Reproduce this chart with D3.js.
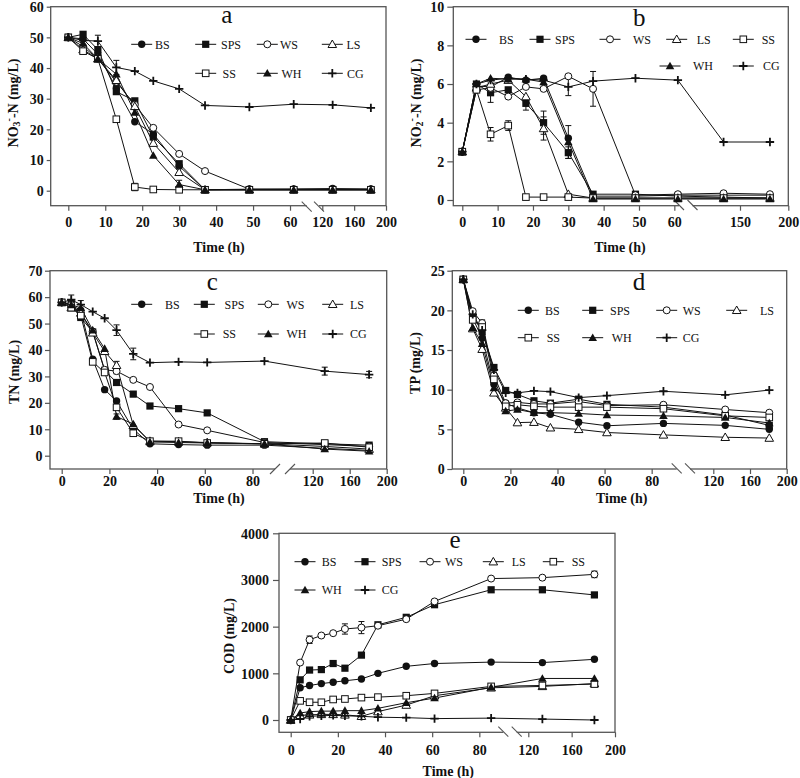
<!DOCTYPE html>
<html><head><meta charset="utf-8">
<script src="https://cdn.jsdelivr.net/npm/d3@7"></script>
<style>
body{margin:0;background:#fff}
svg{display:block}
text{font-family:"Liberation Serif","Times New Roman",serif;fill:#111}
</style>
</head><body>
<svg id="chart" width="800" height="778"></svg>
<script>
// ---------------- DATA ----------------
const seriesNames = ["BS","SPS","WS","LS","SS","WH","CG"];
const timesAB = [0,4,8,13,18,23,30,37,49,61,133,181];
const timesCDE = [0,4,8,13,18,23,30,37,49,61,85,133,181];

// NO3--N (mg/L), order = seriesNames
const no3 = [
  [50,49.5,44.5,33.5,22.5,18.5,8,0.3,0.5,0.6,0.7,0.6],
  [50,51,46,32.3,29.3,17.5,8.8,0.3,0.3,0.3,0.3,0.3],
  [50,47,43,35.5,28,20.5,12,6.4,0.5,0.4,0.4,0.4],
  [50,46,43,36,27.5,15.5,6,0.3,0.3,0.3,0.3,0.3],
  [50,45.5,43,23.3,1.2,0.4,0.3,0.3,0.3,0.3,0.3,0.3],
  [50,48,43,38,25.5,11.5,2,0.3,0.3,0.3,0.3,0.3],
  [50,49,48.8,40.2,39,35.8,33.2,27.8,27.3,28.2,28,27]
];
const no2 = [
  [2.5,5.9,5.85,6.35,6.2,6.3,3.2,0.2,0.2,0.25,0.25,0.25],
  [2.5,6.0,5.55,5.7,5.0,4.0,2.45,0.3,0.3,0.2,0.15,0.1],
  [2.5,5.7,5.8,5.35,5.85,5.75,6.4,5.75,0.25,0.3,0.35,0.3],
  [2.5,5.8,6.0,6.2,5.35,3.7,0.3,0.1,0.1,0.1,0.1,0.1],
  [2.5,5.7,3.4,3.85,0.15,0.15,0.15,0.1,0.1,0.1,0.1,0.1],
  [2.5,6.0,6.3,6.25,6.25,6.1,3.0,0.05,0.05,0.05,0.05,0.05],
  [2.5,6.0,6.2,6.3,6.25,6.2,5.85,6.15,6.3,6.2,3.0,3.0]
];
const tn = [
  [58,57,55,36.5,25,20.7,10,4.5,4.2,4.0,4.0,2.8,2.0],
  [58,57.5,52.3,46.8,32.3,27.7,23.3,18.8,17.8,16.2,5.3,4.5,4.0],
  [58,57,54,47,32.5,32,28.7,26,11.8,9.6,5,4.2,3.5],
  [58,56,54,46.5,39.5,34.2,11.5,5.5,5.3,5.0,4.5,3.5,2.5],
  [58,56,53,35.5,31.5,18.3,8.5,5.5,5.5,4.8,4.5,4.8,3.2],
  [58,57,56,47.5,40.5,14.8,12,5.2,5.0,4.8,4.5,2.5,1.7],
  [58,59,57.2,54.5,52,47.5,38.5,35.2,35.5,35.3,35.8,32,30.7]
];
const tp = [
  [23.9,19,16.5,10.7,8.3,7.7,7.1,6.9,5.9,5.45,5.75,5.5,5.0],
  [23.9,19.3,17.3,12.8,9.9,9.4,8.6,8.3,8.8,8.15,7.8,6.8,5.5],
  [23.9,19.9,18.4,11.8,8.3,8.4,8.2,8.2,8.5,8.0,8.1,7.5,7.1],
  [23.9,17.7,15.1,9.6,7.7,5.85,5.9,5.2,5.0,4.6,4.3,4.0,3.9],
  [23.9,18.8,17.9,11.3,7.9,8.1,7.9,7.8,7.8,7.8,7.6,6.7,6.5],
  [23.9,17.8,15.8,10.2,7.3,7.5,7.1,7.1,7.0,6.8,6.7,6.5,5.8],
  [23.9,19.5,17.5,12.5,9.6,9.6,9.85,9.75,9.0,9.25,9.8,9.35,9.95]
];
const cod = [
  [0,690,740,780,810,840,880,1000,1150,1210,1240,1230,1300],
  [0,860,1070,1080,1210,1110,1390,2040,2200,2470,2790,2790,2680],
  [0,1230,1720,1810,1860,1950,1980,2020,2160,2540,3030,3050,3120],
  [0,100,110,120,120,110,80,180,320,520,690,720,780],
  [0,410,380,380,440,450,480,490,520,570,720,740,770],
  [0,150,180,190,190,200,200,250,370,470,700,890,890],
  [0,20,80,90,100,90,80,60,50,30,40,20,0]
];
// error bars: [series, time, +/- value]
const errNo3 = [["CG",8,1.9],["CG",13,2.3],["SS",18,1.2],["WH",30,1.4]];
const errNo2 = [["SS",8,0.35],["SS",13,0.25],["SPS",8,0.5],["SPS",18,0.35],["LS",23,0.6],["SPS",23,0.6],["CG",30,0.45],["WH",30,0.85],["SPS",30,0.3],["WS",37,0.9]];
const errTn = [["CG",4,1.8],["CG",8,1.5],["CG",23,2],["CG",30,2.2],["LS",23,1.5],["WS",23,1],["WH",23,1],["CG",133,1.5],["CG",181,1.2]];
const errTp = [["WS",8,0.4]];
const errCod = [["WS",8,80],["WS",23,110],["WS",30,130],["SS",61,60],["WS",181,70]];

const xTicksA = [0,10,20,30,40,50,60,120,160,200];
const xTicksB = [0,10,20,30,40,50,60,150,200];
const xTicksCDE = [0,20,40,60,80,120,160,200];
const yTicksA = [0,10,20,30,40,50,60];
const yTicksB = [0,2,4,6,8,10];
const yTicksC = [0,10,20,30,40,50,60,70];
const yTicksD = [0,5,10,15,20,25];
const yTicksE = [0,1000,2000,3000,4000];

// ---------------- STYLE / LAYOUT ----------------
const markerOf = {BS:"circleF",SPS:"squareF",WS:"circleO",LS:"triO",SS:"squareO",WH:"triF",CG:"plus"};
const FRAME = "#555";
const INK = "#111";

const panels = [
  {letter:"a", letterPos:[226.7,23.3], data:no3, t:timesAB, err:errNo3, xt:xTicksA, yt:yTicksA,
   frame:[50.7,6.7,386,205.7], xk:[0,63,120,200], xp:[68.3,301.1,322.3,386],
   yd:[0,60], yp:[190.7,6.7], brk:{c:[306.7,319], y:206.7, dir:1},
   yTick:[4,3], xLab:21.5, title:[219,251.5], yTitle:[12.7,103], yLabel:"no3",
   legend:[["BS",141.7,155,44.3],["SPS",205.7,221,44.3],["WS",267.3,280,44.3],["LS",332.3,346.5,44.3],
           ["SS",205.7,222.5,73.3],["WH",267.3,281.5,73.3],["CG",332.3,347,73.3]]},
  {letter:"b", letterPos:[639.3,26], data:no2, t:timesAB, err:errNo2, xt:xTicksB, yt:yTicksB,
   frame:[453.3,6.7,788.3,205.7], xk:[0,62,100,200], xp:[462.3,681.4,691.7,788.3],
   yd:[0,10], yp:[200,6.7], brk:{c:[679,692.5], y:205, dir:1},
   yTick:[6,3], xLab:21.5, title:[620,251.5], yTitle:[416,103], yLabel:"no2",
   legend:[["BS",476,499,39.3],["SPS",540,555,39.3],["WS",610,633,39.3],["LS",676.7,696.7,39.3],["SS",743.3,761.7,39.3],
           ["WH",670,693,66],["CG",743.3,763,66]]},
  {letter:"c", letterPos:[212.3,289.5], data:tn, t:timesCDE, err:errTn, xt:xTicksCDE, yt:yTicksC,
   frame:[50,270.7,386.7,469], xk:[0,88,120,200], xp:[61.7,271.6,312.7,386.7],
   yd:[0,70], yp:[455.7,270.7], brk:{c:[275,290], y:469, dir:-1},
   yTick:[5,2.5], xLab:17, title:[219,503], yTitle:[14,372], yLabel:"TN (mg/L)",
   legend:[["BS",141.7,165,304.3],["SPS",204.3,224.5,304.3],["WS",268.3,286.5,304.3],["LS",332.7,350,304.3],
           ["SS",204.3,222.7,334],["WH",268.3,286.5,334],["CG",332.7,350,334]]},
  {letter:"d", letterPos:[639,290], data:tp, t:timesCDE, err:errTp, xt:xTicksCDE, yt:yTicksD,
   frame:[452.3,270.7,786.7,469], xk:[0,88,120,200], xp:[463.3,670.5,713.3,786.7],
   yd:[0,25], yp:[469,270.7], brk:{c:[676.7,690], y:468.3, dir:1},
   yTick:[5,2.5], xLab:17, title:[621.7,503], yTitle:[415,363], yLabel:"TP (mg/L)",
   legend:[["BS",528.3,545,310.3],["SPS",592.7,610,310.3],["WS",666.7,682.7,310.3],["LS",736.7,760,310.3],
           ["SS",528.3,546.7,337.7],["WH",592.7,611.7,337.7],["CG",666.7,682.7,337.7]]},
  {letter:"e", letterPos:[455,548.3], data:cod, t:timesCDE, err:errCod, xt:xTicksCDE, yt:yTicksE,
   frame:[279,533.3,615,732.3], xk:[0,88,120,200], xp:[290.7,498.2,528.3,615],
   yd:[0,4000], yp:[720,533.3], brk:{c:[503.3,516.7], y:731.7, dir:1},
   yTick:[6,4], xLab:23, title:[448.3,776], yTitle:[229,636], yLabel:"COD (mg/L)",
   legend:[["BS",305,321.7,561.7],["SPS",365,381.7,561.7],["WS",430,445,561.7],["LS",493.3,511.7,561.7],["SS",553.3,571.7,561.7],
           ["WH",305,321.7,590],["CG",365,381.7,590]]}
];

const svg = d3.select("#chart");

function drawMarker(g, type, x, y){
  const s = 3.6;
  if(type==="circleF") g.append("circle").attr("cx",x).attr("cy",y).attr("r",3.7).attr("fill",INK);
  else if(type==="circleO") g.append("circle").attr("cx",x).attr("cy",y).attr("r",3.5).attr("fill","#fff").attr("stroke",INK).attr("stroke-width",1);
  else if(type==="squareF") g.append("rect").attr("x",x-s).attr("y",y-s).attr("width",2*s).attr("height",2*s).attr("fill",INK);
  else if(type==="squareO") g.append("rect").attr("x",x-3.3).attr("y",y-3.3).attr("width",6.6).attr("height",6.6).attr("fill","#fff").attr("stroke",INK).attr("stroke-width",1);
  else if(type==="triF"||type==="triO"){
    const h=4.3;
    const p = `M${x},${y-h}L${x+h},${y+h*0.75}L${x-h},${y+h*0.75}Z`;
    const el = g.append("path").attr("d",p);
    if(type==="triF") el.attr("fill",INK);
    else el.attr("fill","#fff").attr("stroke",INK).attr("stroke-width",1);
  } else if(type==="plus"){
    g.append("path").attr("d",`M${x-4.2},${y}L${x+4.2},${y}M${x},${y-4.2}L${x},${y+4.2}`)
      .attr("stroke",INK).attr("stroke-width",1.8).attr("fill","none");
  }
}

panels.forEach(P=>{
  const g = svg.append("g");
  const [L,T,R,B] = P.frame;
  const x = d3.scaleLinear().domain(P.xk).range(P.xp);
  const y = d3.scaleLinear().domain(P.yd).range(P.yp);

  // x axis
  const xa = g.append("g").attr("transform",`translate(0,${B})`)
    .call(d3.axisBottom(x).tickValues(P.xt).tickSize(5).tickSizeOuter(0).tickFormat(d3.format("d")));
  xa.select(".domain").remove();
  xa.selectAll("line").attr("stroke",FRAME).attr("stroke-width",1.2);
  xa.selectAll("text").attr("y",P.xLab).attr("dy",null)
    .attr("font-family","Liberation Serif, Times New Roman, serif").attr("font-size",14).attr("font-weight","bold").attr("fill",INK);
  // y axis
  const ya = g.append("g").attr("transform",`translate(${L},0)`)
    .call(d3.axisLeft(y).tickValues(P.yt).tickSize(P.yTick[0]).tickPadding(P.yTick[1]).tickSizeOuter(0).tickFormat(d3.format("d")));
  ya.select(".domain").remove();
  ya.selectAll("line").attr("stroke",FRAME).attr("stroke-width",1.2);
  ya.selectAll("text").attr("dy","0.34em")
    .attr("font-family","Liberation Serif, Times New Roman, serif").attr("font-size",14).attr("font-weight","bold").attr("fill",INK);

  // frame
  g.append("rect").attr("x",L).attr("y",T).attr("width",R-L).attr("height",B-T)
    .attr("fill","none").attr("stroke",FRAME).attr("stroke-width",1.3);

  // axis break
  const bk = P.brk;
  g.append("rect").attr("x",bk.c[0]).attr("y",B-1.5).attr("width",bk.c[1]-bk.c[0]).attr("height",3).attr("fill","#fff");
  bk.c.forEach(cx=>{
    g.append("line").attr("x1",cx-5).attr("y1",bk.y-5*bk.dir).attr("x2",cx+5).attr("y2",bk.y+5*bk.dir)
      .attr("stroke",FRAME).attr("stroke-width",1.1);
  });

  // lines
  const line = d3.line().x(d=>x(d[0])).y(d=>y(d[1]));
  P.data.forEach((vals,i)=>{
    g.append("path").datum(P.t.map((t,j)=>[t,vals[j]])).attr("d",line)
      .attr("fill","none").attr("stroke",INK).attr("stroke-width",1);
  });
  // error bars
  P.err.forEach(([name,t,e])=>{
    const si = seriesNames.indexOf(name), ti = P.t.indexOf(t);
    const v = P.data[si][ti], xx = x(t);
    g.append("path").attr("d",`M${xx},${y(v-e)}V${y(v+e)}M${xx-3},${y(v-e)}H${xx+3}M${xx-3},${y(v+e)}H${xx+3}`)
      .attr("stroke",INK).attr("stroke-width",1).attr("fill","none");
  });
  // markers
  P.data.forEach((vals,i)=>{
    const type = markerOf[seriesNames[i]];
    P.t.forEach((t,j)=>drawMarker(g,type,x(t),y(vals[j])));
  });

  // legend
  P.legend.forEach(([name,mx,tx,ly])=>{
    g.append("line").attr("x1",mx-10.5).attr("x2",mx+10.5).attr("y1",ly).attr("y2",ly).attr("stroke",INK).attr("stroke-width",1);
    drawMarker(g,markerOf[name],mx,ly);
    g.append("text").attr("x",tx).attr("y",ly+4.2).attr("font-size",12).text(name);
  });

  // panel letter
  g.append("text").attr("x",P.letterPos[0]).attr("y",P.letterPos[1]).attr("text-anchor","middle")
    .attr("font-size",25).text(P.letter);

  // x title
  g.append("text").attr("x",P.title[0]).attr("y",P.title[1]).attr("text-anchor","middle")
    .attr("font-size",14).attr("font-weight","bold").text("Time (h)");

  // y title
  const yt = g.append("text").attr("transform",`translate(${P.yTitle[0]},${P.yTitle[1]}) rotate(-90)`)
    .attr("text-anchor","middle").attr("dominant-baseline","central")
    .attr("font-size",14).attr("font-weight","bold");
  if(P.yLabel==="no3"||P.yLabel==="no2"){
    yt.append("tspan").text("NO");
    yt.append("tspan").attr("font-size",10).attr("dy",3).text(P.yLabel==="no3"?"3":"2");
    yt.append("tspan").attr("font-size",10).attr("dy",-8).text("-");
    yt.append("tspan").attr("dy",5).text("-N (mg/L)");
  } else {
    yt.text(P.yLabel);
  }
});
</script>
</body></html>
